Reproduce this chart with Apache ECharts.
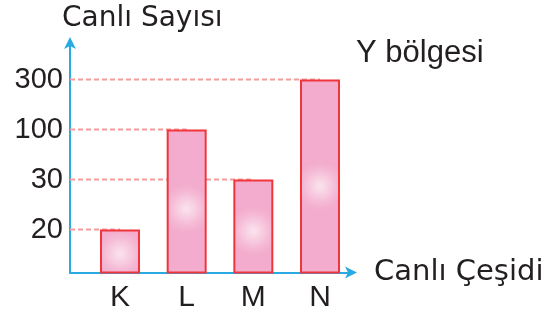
<!DOCTYPE html>
<html><head><meta charset="utf-8">
<script src="https://cdn.jsdelivr.net/npm/echarts@6/dist/echarts.min.js"></script>
<style>html,body{margin:0;padding:0;background:#fff}#c{width:559px;height:314px}</style>
</head><body><div id="c"></div>
<script>
var categories = ['K', 'L', 'M', 'N'];
var values = [20, 100, 30, 300];
var tickLabels = [20, 30, 100, 300];

var levels = values.map(function (v) { return tickLabels.indexOf(v) + 1; });
var X_MIN = -0.75, X_MAX = 3.48;
var barColor = {
  type: 'radial', x: 0.5, y: 0.55, r: 0.6,
  colorStops: [{offset: 0, color: '#fae4ee'}, {offset: 0.3, color: '#f8d2e3'}, {offset: 0.7, color: '#f5b9d5'}, {offset: 1, color: '#f3accd'}]
};
var series = [];
categories.forEach(function (c, i) {
  series.push({
    type: 'line', z: 0, symbol: 'none', silent: true, color: '#f59c9c',
    emphasis: {disabled: true},
    data: [[X_MIN, levels[i]], [i, levels[i]]],
    lineStyle: {color: '#f59c9c', width: 2, type: [5, 3], opacity: 1}
  });
});
series.push({
  type: 'bar', z: 5, barWidth: 40,
  data: categories.map(function (c, i) { return [i, levels[i]]; }),
  itemStyle: {color: barColor, borderColor: '#f0353b', borderWidth: 2}
});

var chart = echarts.init(document.getElementById('c'));
chart.setOption({
  animation: false,
  textStyle: {fontFamily: 'Liberation Sans'},
  title: {text: 'Y bölgesi', left: 351, top: 33,
    textStyle: {fontFamily: 'Liberation Sans', fontSize: 31, fontWeight: 'normal', color: '#231f20'}},
  grid: {left: 70, right: 207, top: 42, bottom: 41.5},
  xAxis: {
    type: 'value', min: X_MIN, max: X_MAX,
    name: 'Canlı Çeşidi', nameLocation: 'end', nameGap: 22,
    nameTextStyle: {fontFamily: 'DejaVu Sans', fontSize: 29, color: '#231f20', verticalAlign: 'middle', padding: [3, 0, 0, 0]},
    axisLine: {show: true, onZero: false, lineStyle: {color: '#29abe2', width: 2}, symbol: ['none', 'arrow'], symbolSize: [9, 12], symbolOffset: [0, 5]},
    axisTick: {show: false},
    splitLine: {show: false},
    axisLabel: {customValues: [0, 1, 2, 3], formatter: function (v) { return categories[Math.round(v)]; },
      fontSize: 30, color: '#231f20', margin: 10}
  },
  yAxis: {
    type: 'value', min: 0.14, max: 4.75,
    name: 'Canlı Sayısı', nameLocation: 'end', nameGap: 9,
    nameTextStyle: {fontFamily: 'DejaVu Sans', fontSize: 28, color: '#231f20', align: 'left', padding: [0, 0, 0, -8]},
    axisLine: {show: true, onZero: false, lineStyle: {color: '#29abe2', width: 2}, symbol: ['none', 'arrow'], symbolSize: [9, 12], symbolOffset: [0, 5]},
    axisTick: {show: false},
    splitLine: {show: false},
    axisLabel: {customValues: [1, 2, 3, 4], formatter: function (v) { return String(tickLabels[Math.round(v) - 1]); },
      fontSize: 29, color: '#231f20', margin: 7}
  },
  series: series
});
</script></body></html>
